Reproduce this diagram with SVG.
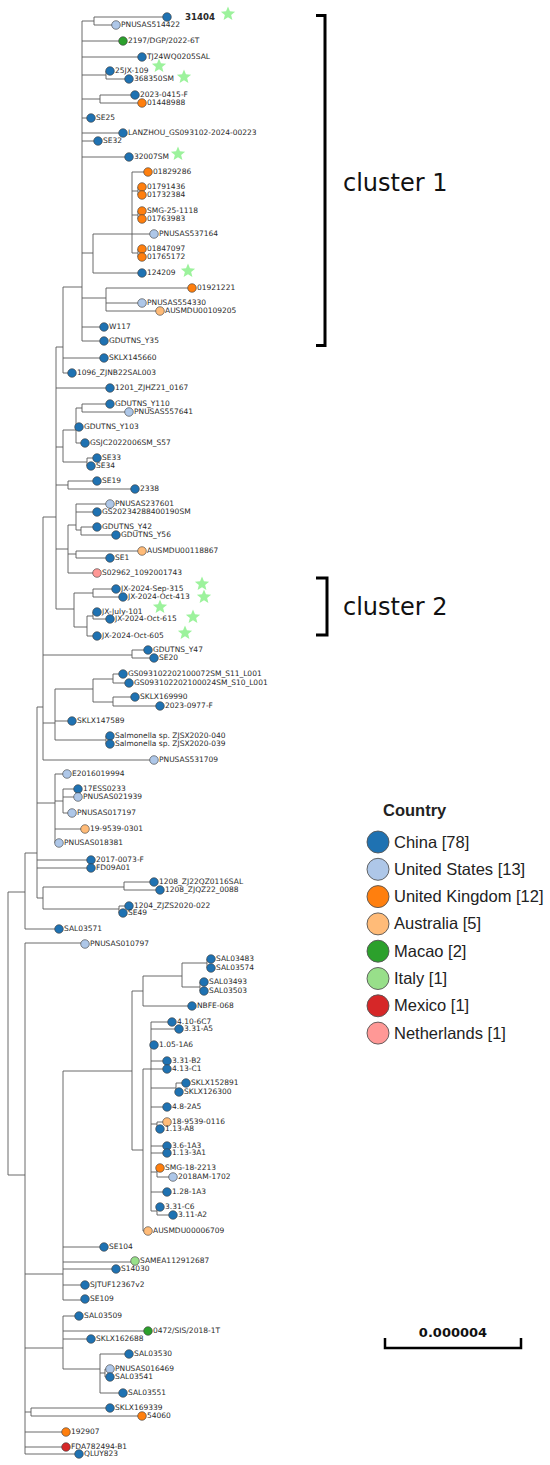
<svg xmlns="http://www.w3.org/2000/svg" xmlns:xlink="http://www.w3.org/1999/xlink" width="550" height="1465" viewBox="0 0 550 1465">
<defs>
<style>
.br{fill:none;stroke:#5a5a5a;stroke-width:0.9}
.lf circle{stroke:#3a3a3a;stroke-width:0.6}
.lf text{font-family:"DejaVu Sans",Verdana,sans-serif;font-size:7.5px;fill:#2a2a2a}
.c{fill:#1f72b2}.u{fill:#aec7e8}.k{fill:#ff7f0e}.a{fill:#ffbb78}.m{fill:#2ca02c}.i{fill:#98df8a}.x{fill:#d62728}.n{fill:#ff9896}
.st{fill:#9cf29c}
.brk{fill:none;stroke:#000;stroke-width:3}
.cl{font-family:"DejaVu Sans",Verdana,sans-serif;font-size:24px;fill:#111}
.lg circle{stroke:#555;stroke-width:0.9}
.lg text{font-family:"Liberation Sans",Arial,sans-serif;font-size:16.5px;fill:#222}
</style>
<path id="star" d="M0,-7.5L1.94,-2.67L7.13,-2.32L3.14,1.02L4.41,6.07L0,3.3L-4.41,6.07L-3.14,1.02L-7.13,-2.32L-1.94,-2.67Z"/>
</defs>
<rect width="550" height="1465" fill="#fff"/>
<g id="connectors">
<path class="br" d="M82 21V341 M82 21H94 M94 17V25 M94 17H167 M94 25H116 M82 41H123 M82 57H142 M82 75H106 M106 71V79 M106 71H110 M106 79H129 M82 99H100 M100 95V103 M100 95H135 M100 103H142 M82 118H91 M82 133H123 M82 141H98 M82 157H129 M82 253H93 M93 234V273 M93 234H154 M93 273H142 M132 172V253 M132 172H148 M132 191H138 M138 187V195 M138 187H142 M138 195H142 M132 215H138 M138 211V219 M138 211H142 M138 219H142 M132 253H138 M138 249V257 M138 249H142 M138 257H142 M82 298H106 M106 288V311 M106 288H192 M106 303H142 M106 311H160 M82 327H104 M82 341H104"/>
<path class="br" d="M63 287V373 M63 287H82 M63 358H104 M63 373H72 M56 347V609 M56 347H63 M56 388H110 M56 447H63 M56 485H68 M56 549H68 M56 609H74 M63 430V462 M63 430H76 M63 462H87 M76 408V443 M76 408H82 M82 404V412 M82 404H110 M82 412H129 M76 427H79 M76 443H85 M87 458V466 M87 458H97 M87 466H91 M68 481V489 M68 481H97 M68 489H135 M68 525V573 M68 525H76 M68 554H76 M68 573H97 M76 504V530 M76 504H110 M76 512H97 M76 530H81 M81 527V535 M81 527H97 M81 535H116 M76 551V558 M76 551H142 M76 558H110 M74 593V627 M74 593H93 M93 589V597 M93 589H116 M93 597H123 M74 627H87 M87 616V636 M87 616H93 M93 612V619 M93 612H97 M93 619H110 M87 636H97"/>
<path class="br" d="M43 517V760 M43 517H56 M43 655H132 M43 723H55 M43 760H154 M132 650V658 M132 650H148 M132 658H154 M55 689V740 M55 689H93 M55 721H72 M55 740H106 M106 736V744 M106 736H110 M106 744H110 M93 679V702 M93 679H113 M113 674V683 M113 674H123 M113 683H129 M93 702H113 M113 697V706 M113 697H135 M113 706H160 M37 707V898 M37 707H43 M37 803H55 M37 860H91 M37 868H91 M37 898H43 M55 774V843 M55 774H67 M55 801H63 M55 829H85 M55 843H59 M63 789V813 M63 789H78 M63 797H78 M63 813H72 M43 887V909 M43 887H124 M124 882V890 M124 882H154 M124 890H160 M43 909H119 M119 906V913 M119 906H129 M119 913H123 M25 853V929 M25 853H37 M25 929H59 M8 892V1175 M8 892H25 M8 1175H25"/>
<path class="br" d="M25 943V1454 M25 943H85 M25 1274H63 M25 1348H63 M25 1412H31 M25 1432H66 M25 1447H66 M25 1454H79 M63 1071V1300 M63 1071H132 M63 1247H104 M63 1262H135 M63 1269H116 M63 1285H85 M63 1300H85 M132 991V1150 M132 991H143 M132 1150H143 M143 976V1006 M143 976H182 M143 1006H192 M182 963V987 M182 963H207 M207 959V968 M207 959H211 M207 968H211 M182 987H200 M200 982V991 M200 982H204 M200 991H204 M143 1069V1231 M143 1069H151 M143 1231H148 M151 1022V1211 M151 1022H172 M151 1029H179 M151 1045H154 M151 1061H167 M151 1069H167 M151 1088H176 M176 1083V1092 M176 1083H186 M176 1092H179 M151 1107H167 M151 1124H157 M157 1122V1129 M157 1122H167 M157 1129H160 M151 1146H167 M151 1153H167 M151 1172H157 M157 1168V1177 M157 1168H160 M157 1177H173 M151 1192H167 M151 1211H157 M157 1207V1215 M157 1207H160 M157 1215H173 M63 1316V1369 M63 1316H79 M63 1331H148 M63 1339H91 M63 1369H100 M100 1354V1393 M100 1354H129 M100 1373H105 M105 1369V1377 M105 1369H110 M105 1377H110 M100 1393H123 M31 1408V1416 M31 1408H110 M31 1416H142"/>
</g>
<g id="stars">
<use href="#star" class="st" x="228" y="14"/>
<use href="#star" class="st" x="159" y="66"/>
<use href="#star" class="st" x="184" y="77"/>
<use href="#star" class="st" x="178" y="154"/>
<use href="#star" class="st" x="188" y="271"/>
<use href="#star" class="st" x="202" y="584"/>
<use href="#star" class="st" x="204" y="597"/>
<use href="#star" class="st" x="160" y="607"/>
<use href="#star" class="st" x="193" y="617"/>
<use href="#star" class="st" x="185" y="633"/>
</g>
<g id="leaves">
<g id="n_31404" class="lf"><circle class="c" cx="167" cy="17" r="4.3"/><text x="185" y="20" style="font-weight:bold;font-size:8.6px">31404</text></g>
<g id="n_PNUSAS514422" class="lf"><circle class="u" cx="116" cy="25" r="4.3"/><text x="121" y="26.5">PNUSAS514422</text></g>
<g id="n_2197_DGP_2022_6T" class="lf"><circle class="m" cx="123" cy="41" r="4.3"/><text x="128" y="42.5">2197/DGP/2022-6T</text></g>
<g id="n_TJ24WQ0205SAL" class="lf"><circle class="c" cx="142" cy="57" r="4.3"/><text x="147" y="58.5">TJ24WQ0205SAL</text></g>
<g id="n_25JX_109" class="lf"><circle class="c" cx="110" cy="71" r="4.3"/><text x="115" y="72.5">25JX-109</text></g>
<g id="n_368350SM" class="lf"><circle class="c" cx="129" cy="79" r="4.3"/><text x="134" y="80.5">368350SM</text></g>
<g id="n_2023_0415_F" class="lf"><circle class="c" cx="135" cy="95" r="4.3"/><text x="140" y="96.5">2023-0415-F</text></g>
<g id="n_01448988" class="lf"><circle class="k" cx="142" cy="103" r="4.3"/><text x="147" y="104.5">01448988</text></g>
<g id="n_SE25" class="lf"><circle class="c" cx="91" cy="118" r="4.3"/><text x="96" y="119.5">SE25</text></g>
<g id="n_LANZHOU" class="lf"><circle class="c" cx="123" cy="133" r="4.3"/><text x="128" y="134.5">LANZHOU_GS093102-2024-00223</text></g>
<g id="n_SE32" class="lf"><circle class="c" cx="98" cy="141" r="4.3"/><text x="103" y="142.5">SE32</text></g>
<g id="n_32007SM" class="lf"><circle class="c" cx="129" cy="157" r="4.3"/><text x="134" y="158.5">32007SM</text></g>
<g id="n_01829286" class="lf"><circle class="k" cx="148" cy="172" r="4.3"/><text x="153" y="173.5">01829286</text></g>
<g id="n_01791436" class="lf"><circle class="k" cx="142" cy="187" r="4.3"/><text x="147" y="188.5">01791436</text></g>
<g id="n_01732384" class="lf"><circle class="k" cx="142" cy="195" r="4.3"/><text x="147" y="196.5">01732384</text></g>
<g id="n_SMG_25_1118" class="lf"><circle class="k" cx="142" cy="211" r="4.3"/><text x="147" y="212.5">SMG-25-1118</text></g>
<g id="n_01763983" class="lf"><circle class="k" cx="142" cy="219" r="4.3"/><text x="147" y="220.5">01763983</text></g>
<g id="n_PNUSAS537164" class="lf"><circle class="u" cx="154" cy="234" r="4.3"/><text x="159" y="235.5">PNUSAS537164</text></g>
<g id="n_01847097" class="lf"><circle class="k" cx="142" cy="249" r="4.3"/><text x="147" y="250.5">01847097</text></g>
<g id="n_01765172" class="lf"><circle class="k" cx="142" cy="257" r="4.3"/><text x="147" y="258.5">01765172</text></g>
<g id="n_124209" class="lf"><circle class="c" cx="142" cy="273" r="4.3"/><text x="147" y="274.5">124209</text></g>
<g id="n_01921221" class="lf"><circle class="k" cx="192" cy="288" r="4.3"/><text x="197" y="289.5">01921221</text></g>
<g id="n_PNUSAS554330" class="lf"><circle class="u" cx="142" cy="303" r="4.3"/><text x="147" y="304.5">PNUSAS554330</text></g>
<g id="n_AUSMDU00109205" class="lf"><circle class="a" cx="160" cy="311" r="4.3"/><text x="165" y="312.5">AUSMDU00109205</text></g>
<g id="n_W117" class="lf"><circle class="c" cx="104" cy="327" r="4.3"/><text x="109" y="328.5">W117</text></g>
<g id="n_GDUTNS_Y35" class="lf"><circle class="c" cx="104" cy="341" r="4.3"/><text x="109" y="342.5">GDUTNS_Y35</text></g>
<g id="n_SKLX145660" class="lf"><circle class="c" cx="104" cy="358" r="4.3"/><text x="109" y="359.5">SKLX145660</text></g>
<g id="n_1096_ZJNB22SAL003" class="lf"><circle class="c" cx="72" cy="373" r="4.3"/><text x="77" y="374.5">1096_ZJNB22SAL003</text></g>
<g id="n_1201_ZJHZ21_0167" class="lf"><circle class="c" cx="110" cy="388" r="4.3"/><text x="115" y="389.5">1201_ZJHZ21_0167</text></g>
<g id="n_GDUTNS_Y110" class="lf"><circle class="c" cx="110" cy="404" r="4.3"/><text x="115" y="405.5">GDUTNS_Y110</text></g>
<g id="n_PNUSAS557641" class="lf"><circle class="u" cx="129" cy="412" r="4.3"/><text x="134" y="413.5">PNUSAS557641</text></g>
<g id="n_GDUTNS_Y103" class="lf"><circle class="c" cx="79" cy="427" r="4.3"/><text x="84" y="428.5">GDUTNS_Y103</text></g>
<g id="n_GSJC2022006SM_S57" class="lf"><circle class="c" cx="85" cy="443" r="4.3"/><text x="90" y="444.5">GSJC2022006SM_S57</text></g>
<g id="n_SE33" class="lf"><circle class="c" cx="97" cy="458" r="4.3"/><text x="102" y="459.5">SE33</text></g>
<g id="n_SE34" class="lf"><circle class="c" cx="91" cy="466" r="4.3"/><text x="96" y="467.5">SE34</text></g>
<g id="n_SE19" class="lf"><circle class="c" cx="97" cy="481" r="4.3"/><text x="102" y="482.5">SE19</text></g>
<g id="n_2338" class="lf"><circle class="c" cx="135" cy="489" r="4.3"/><text x="140" y="490.5">2338</text></g>
<g id="n_PNUSAS237601" class="lf"><circle class="u" cx="110" cy="504" r="4.3"/><text x="115" y="505.5">PNUSAS237601</text></g>
<g id="n_GS20234288400190SM" class="lf"><circle class="c" cx="97" cy="512" r="4.3"/><text x="102" y="513.5">GS20234288400190SM</text></g>
<g id="n_GDUTNS_Y42" class="lf"><circle class="c" cx="97" cy="527" r="4.3"/><text x="102" y="528.5">GDUTNS_Y42</text></g>
<g id="n_GDUTNS_Y56" class="lf"><circle class="c" cx="116" cy="535" r="4.3"/><text x="121" y="536.5">GDUTNS_Y56</text></g>
<g id="n_AUSMDU00118867" class="lf"><circle class="a" cx="142" cy="551" r="4.3"/><text x="147" y="552.5">AUSMDU00118867</text></g>
<g id="n_SE1" class="lf"><circle class="c" cx="110" cy="558" r="4.3"/><text x="115" y="559.5">SE1</text></g>
<g id="n_S02962_1092001743" class="lf"><circle class="n" cx="97" cy="573" r="4.3"/><text x="102" y="574.5">S02962_1092001743</text></g>
<g id="n_JX_2024_Sep_315" class="lf"><circle class="c" cx="116" cy="589" r="4.3"/><text x="121" y="590.5">JX-2024-Sep-315</text></g>
<g id="n_JX_2024_Oct_413" class="lf"><circle class="c" cx="123" cy="597" r="4.3"/><text x="128" y="598.5">JX-2024-Oct-413</text></g>
<g id="n_JX_July_101" class="lf"><circle class="c" cx="97" cy="612" r="4.3"/><text x="102" y="613.5">JX-July-101</text></g>
<g id="n_JX_2024_Oct_615" class="lf"><circle class="c" cx="110" cy="619" r="4.3"/><text x="115" y="620.5">JX-2024-Oct-615</text></g>
<g id="n_JX_2024_Oct_605" class="lf"><circle class="c" cx="97" cy="636" r="4.3"/><text x="102" y="637.5">JX-2024-Oct-605</text></g>
<g id="n_GDUTNS_Y47" class="lf"><circle class="c" cx="148" cy="650" r="4.3"/><text x="153" y="651.5">GDUTNS_Y47</text></g>
<g id="n_SE20" class="lf"><circle class="c" cx="154" cy="658" r="4.3"/><text x="159" y="659.5">SE20</text></g>
<g id="n_GS093102202100072SM" class="lf"><circle class="c" cx="123" cy="674" r="4.3"/><text x="128" y="675.5">GS093102202100072SM_S11_L001</text></g>
<g id="n_GS093102202100024SM" class="lf"><circle class="c" cx="129" cy="683" r="4.3"/><text x="134" y="684.5">GS093102202100024SM_S10_L001</text></g>
<g id="n_SKLX169990" class="lf"><circle class="c" cx="135" cy="697" r="4.3"/><text x="140" y="698.5">SKLX169990</text></g>
<g id="n_2023_0977_F" class="lf"><circle class="c" cx="160" cy="706" r="4.3"/><text x="165" y="707.5">2023-0977-F</text></g>
<g id="n_SKLX147589" class="lf"><circle class="c" cx="72" cy="721" r="4.3"/><text x="77" y="722.5">SKLX147589</text></g>
<g id="n_ZJSX2020_040" class="lf"><circle class="c" cx="110" cy="736" r="4.3"/><text x="115" y="737.5">Salmonella sp. ZJSX2020-040</text></g>
<g id="n_ZJSX2020_039" class="lf"><circle class="c" cx="110" cy="744" r="4.3"/><text x="115" y="745.5">Salmonella sp. ZJSX2020-039</text></g>
<g id="n_PNUSAS531709" class="lf"><circle class="u" cx="154" cy="760" r="4.3"/><text x="159" y="761.5">PNUSAS531709</text></g>
<g id="n_E2016019994" class="lf"><circle class="u" cx="67" cy="774" r="4.3"/><text x="72" y="775.5">E2016019994</text></g>
<g id="n_17ESS0233" class="lf"><circle class="c" cx="78" cy="789" r="4.3"/><text x="83" y="790.5">17ESS0233</text></g>
<g id="n_PNUSAS021939" class="lf"><circle class="u" cx="78" cy="797" r="4.3"/><text x="83" y="798.5">PNUSAS021939</text></g>
<g id="n_PNUSAS017197" class="lf"><circle class="u" cx="72" cy="813" r="4.3"/><text x="77" y="814.5">PNUSAS017197</text></g>
<g id="n_19_9539_0301" class="lf"><circle class="a" cx="85" cy="829" r="4.3"/><text x="90" y="830.5">19-9539-0301</text></g>
<g id="n_PNUSAS018381" class="lf"><circle class="u" cx="59" cy="843" r="4.3"/><text x="64" y="844.5">PNUSAS018381</text></g>
<g id="n_2017_0073_F" class="lf"><circle class="c" cx="91" cy="860" r="4.3"/><text x="96" y="861.5">2017-0073-F</text></g>
<g id="n_FD09A01" class="lf"><circle class="c" cx="91" cy="868" r="4.3"/><text x="96" y="869.5">FD09A01</text></g>
<g id="n_1208_ZJ22QZ0116SAL" class="lf"><circle class="c" cx="154" cy="882" r="4.3"/><text x="159" y="883.5">1208_ZJ22QZ0116SAL</text></g>
<g id="n_1208_ZJQZ22_0088" class="lf"><circle class="c" cx="160" cy="890" r="4.3"/><text x="165" y="891.5">1208_ZJQZ22_0088</text></g>
<g id="n_1204_ZJZS2020_022" class="lf"><circle class="c" cx="129" cy="906" r="4.3"/><text x="134" y="907.5">1204_ZJZS2020-022</text></g>
<g id="n_SE49" class="lf"><circle class="c" cx="123" cy="913" r="4.3"/><text x="128" y="914.5">SE49</text></g>
<g id="n_SAL03571" class="lf"><circle class="c" cx="59" cy="929" r="4.3"/><text x="64" y="930.5">SAL03571</text></g>
<g id="n_PNUSAS010797" class="lf"><circle class="u" cx="85" cy="944" r="4.3"/><text x="90" y="945.5">PNUSAS010797</text></g>
<g id="n_SAL03483" class="lf"><circle class="c" cx="211" cy="959" r="4.3"/><text x="216" y="960.5">SAL03483</text></g>
<g id="n_SAL03574" class="lf"><circle class="c" cx="211" cy="968" r="4.3"/><text x="216" y="969.5">SAL03574</text></g>
<g id="n_SAL03493" class="lf"><circle class="c" cx="204" cy="982" r="4.3"/><text x="209" y="983.5">SAL03493</text></g>
<g id="n_SAL03503" class="lf"><circle class="c" cx="204" cy="991" r="4.3"/><text x="209" y="992.5">SAL03503</text></g>
<g id="n_NBFE_068" class="lf"><circle class="c" cx="192" cy="1006" r="4.3"/><text x="197" y="1007.5">NBFE-068</text></g>
<g id="n_4_10_6C7" class="lf"><circle class="c" cx="172" cy="1022" r="4.3"/><text x="177" y="1023.5">4.10-6C7</text></g>
<g id="n_3_31_A5" class="lf"><circle class="c" cx="179" cy="1029" r="4.3"/><text x="184" y="1030.5">3.31-A5</text></g>
<g id="n_1_05_1A6" class="lf"><circle class="c" cx="154" cy="1045" r="4.3"/><text x="159" y="1046.5">1.05-1A6</text></g>
<g id="n_3_31_B2" class="lf"><circle class="c" cx="167" cy="1061" r="4.3"/><text x="172" y="1062.5">3.31-B2</text></g>
<g id="n_4_13_C1" class="lf"><circle class="c" cx="167" cy="1069" r="4.3"/><text x="172" y="1070.5">4.13-C1</text></g>
<g id="n_SKLX152891" class="lf"><circle class="c" cx="186" cy="1083" r="4.3"/><text x="191" y="1084.5">SKLX152891</text></g>
<g id="n_SKLX126300" class="lf"><circle class="c" cx="179" cy="1092" r="4.3"/><text x="184" y="1093.5">SKLX126300</text></g>
<g id="n_4_8_2A5" class="lf"><circle class="c" cx="167" cy="1107" r="4.3"/><text x="172" y="1108.5">4.8-2A5</text></g>
<g id="n_18_9539_0116" class="lf"><circle class="a" cx="167" cy="1122" r="4.3"/><text x="172" y="1123.5">18-9539-0116</text></g>
<g id="n_1_13_A8" class="lf"><circle class="c" cx="160" cy="1129" r="4.3"/><text x="165" y="1130.5">1.13-A8</text></g>
<g id="n_3_6_1A3" class="lf"><circle class="c" cx="167" cy="1146" r="4.3"/><text x="172" y="1147.5">3.6-1A3</text></g>
<g id="n_1_13_3A1" class="lf"><circle class="c" cx="167" cy="1153" r="4.3"/><text x="172" y="1154.5">1.13-3A1</text></g>
<g id="n_SMG_18_2213" class="lf"><circle class="k" cx="160" cy="1168" r="4.3"/><text x="165" y="1169.5">SMG-18-2213</text></g>
<g id="n_2018AM_1702" class="lf"><circle class="u" cx="173" cy="1177" r="4.3"/><text x="178" y="1178.5">2018AM-1702</text></g>
<g id="n_1_28_1A3" class="lf"><circle class="c" cx="167" cy="1192" r="4.3"/><text x="172" y="1193.5">1.28-1A3</text></g>
<g id="n_3_31_C6" class="lf"><circle class="c" cx="160" cy="1207" r="4.3"/><text x="165" y="1208.5">3.31-C6</text></g>
<g id="n_3_11_A2" class="lf"><circle class="c" cx="173" cy="1215" r="4.3"/><text x="178" y="1216.5">3.11-A2</text></g>
<g id="n_AUSMDU00006709" class="lf"><circle class="a" cx="148" cy="1231" r="4.3"/><text x="153" y="1232.5">AUSMDU00006709</text></g>
<g id="n_SE104" class="lf"><circle class="c" cx="104" cy="1247" r="4.3"/><text x="109" y="1248.5">SE104</text></g>
<g id="n_SAMEA112912687" class="lf"><circle class="i" cx="135" cy="1261" r="4.3"/><text x="140" y="1262.5">SAMEA112912687</text></g>
<g id="n_S14030" class="lf"><circle class="c" cx="116" cy="1269" r="4.3"/><text x="121" y="1270.5">S14030</text></g>
<g id="n_SJTUF12367v2" class="lf"><circle class="c" cx="85" cy="1285" r="4.3"/><text x="90" y="1286.5">SJTUF12367v2</text></g>
<g id="n_SE109" class="lf"><circle class="c" cx="85" cy="1299" r="4.3"/><text x="90" y="1300.5">SE109</text></g>
<g id="n_SAL03509" class="lf"><circle class="c" cx="79" cy="1316" r="4.3"/><text x="84" y="1317.5">SAL03509</text></g>
<g id="n_0472_SIS_2018_1T" class="lf"><circle class="m" cx="148" cy="1331" r="4.3"/><text x="153" y="1332.5">0472/SIS/2018-1T</text></g>
<g id="n_SKLX162688" class="lf"><circle class="c" cx="91" cy="1339" r="4.3"/><text x="96" y="1340.5">SKLX162688</text></g>
<g id="n_SAL03530" class="lf"><circle class="c" cx="129" cy="1354" r="4.3"/><text x="134" y="1355.5">SAL03530</text></g>
<g id="n_PNUSAS016469" class="lf"><circle class="u" cx="110" cy="1369" r="4.3"/><text x="115" y="1370.5">PNUSAS016469</text></g>
<g id="n_SAL03541" class="lf"><circle class="c" cx="110" cy="1377" r="4.3"/><text x="115" y="1378.5">SAL03541</text></g>
<g id="n_SAL03551" class="lf"><circle class="c" cx="123" cy="1393" r="4.3"/><text x="128" y="1394.5">SAL03551</text></g>
<g id="n_SKLX169339" class="lf"><circle class="c" cx="110" cy="1408" r="4.3"/><text x="115" y="1409.5">SKLX169339</text></g>
<g id="n_54060" class="lf"><circle class="k" cx="142" cy="1416" r="4.3"/><text x="147" y="1417.5">54060</text></g>
<g id="n_192907" class="lf"><circle class="k" cx="66" cy="1432" r="4.3"/><text x="71" y="1433.5">192907</text></g>
<g id="n_FDA782494_B1" class="lf"><circle class="x" cx="66" cy="1447" r="4.3"/><text x="71" y="1448.5">FDA782494-B1</text></g>
<g id="n_QLUY823" class="lf"><circle class="c" cx="79" cy="1454" r="4.3"/><text x="84" y="1455.5">QLUY823</text></g>
</g>
<g id="cluster1">
<path class="brk" d="M316 15.5H325V345.5H316"/>
<text class="cl" x="343" y="191">cluster 1</text>
</g>
<g id="cluster2">
<path class="brk" d="M316 578H327V635H316"/>
<text class="cl" x="343" y="615">cluster 2</text>
</g>
<g id="legend" class="lg">
<text x="383" y="816" style="font-weight:bold">Country</text>
<circle class="c" cx="378" cy="842" r="11"/><text x="394" y="847.5">China [78]</text>
<circle class="u" cx="378" cy="869.3" r="11"/><text x="394" y="874.8">United States [13]</text>
<circle class="k" cx="378" cy="896.6" r="11"/><text x="394" y="902.1">United Kingdom [12]</text>
<circle class="a" cx="378" cy="923.9" r="11"/><text x="394" y="929.4">Australia [5]</text>
<circle class="m" cx="378" cy="951.2" r="11"/><text x="394" y="956.7">Macao [2]</text>
<circle class="i" cx="378" cy="978.5" r="11"/><text x="394" y="984">Italy [1]</text>
<circle class="x" cx="378" cy="1005.8" r="11"/><text x="394" y="1011.3">Mexico [1]</text>
<circle class="n" cx="378" cy="1033.1" r="11"/><text x="394" y="1038.6">Netherlands [1]</text>
</g>
<g id="scalebar">
<path d="M385 1338V1348H521V1338" fill="none" stroke="#000" stroke-width="2.5"/>
<text x="453" y="1337" text-anchor="middle" style="font-family:'DejaVu Sans',Verdana,sans-serif;font-size:13px;font-weight:bold;fill:#111">0.000004</text>
</g>
</svg>
